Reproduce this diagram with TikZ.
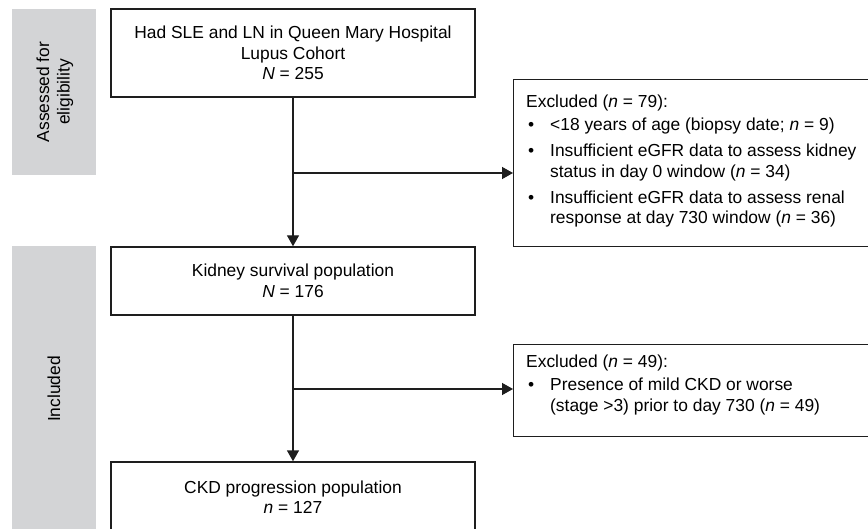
\documentclass[tikz,border=0pt]{standalone}
\usepackage{fontspec}
\setmainfont{Liberation Sans}
\usetikzlibrary{arrows.meta}
\definecolor{bandgray}{RGB}{211,212,214}
\definecolor{ln}{RGB}{30,30,30}
\newcommand{\bul}{\makebox[24pt][l]{\hspace{2pt}•}}
\newcommand{\ind}{\hspace*{24pt}}
\begin{document}
\begin{tikzpicture}[x=1pt,y=-1pt,
  every node/.style={font=\fontsize{17.4}{20.5}\selectfont, text=black},
  box/.style={draw=ln, line width=1.4pt, minimum width=364pt, align=center, inner sep=0pt},
  exbox/.style={draw=ln, line width=1.4pt, inner sep=0pt, anchor=north west, minimum width=372pt},
  bandbox/.style={fill=bandgray, draw=none, inner sep=0pt, anchor=north west, minimum width=84pt},
  txt/.style={anchor=base west, inner sep=0pt},
  conn/.style={draw=ln, line width=1.4pt},
  arr/.style={conn, -{Triangle[length=11pt,width=12pt]}},
]
\clip (0,0) rectangle (868,529);
\node[bandbox, minimum height=166pt] (b1) at (12,9) {};
\node[bandbox, minimum height=290pt] (b2) at (12,246) {};
\node[rotate=90, align=center, inner sep=0pt] (l1) at (55,92) {Assessed for\\eligibility};
\node[rotate=90, inner sep=0pt] (l2) at (54,389) {Included};

\node[box, minimum height=88pt] (s1) at (293,53) {Had SLE and LN in Queen Mary Hospital\\Lupus Cohort\\\textit{N} = 255};
\node[box, minimum height=68pt] (s2) at (293,281) {Kidney survival population\\\textit{N} = 176};
\node[box, minimum height=70pt] (s3) at (293,497) {CKD progression population\\\textit{n} = 127};

\node[exbox, minimum height=167pt] (e1) at (513,79) {};
\node[exbox, minimum height=92pt] (e2) at (513,344) {};

\node[txt] (t1) at (526,107.5) {\begin{tabular}[t]{@{}l@{}}
Excluded (\textit{n} = 79):\\[3pt]
\bul<18 years of age (biopsy date; \textit{n} = 9)\\[5.5pt]
\bul Insufficient eGFR data to assess kidney\\
\ind status in day 0 window (\textit{n} = 34)\\[5.5pt]
\bul Insufficient eGFR data to assess renal\\
\ind response at day 730 window (\textit{n} = 36)
\end{tabular}};
\node[txt] (t2) at (526,367.5) {\begin{tabular}[t]{@{}l@{}}
Excluded (\textit{n} = 49):\\[3pt]
\bul Presence of mild CKD or worse\\
\ind (stage >3) prior to day 730 (\textit{n} = 49)
\end{tabular}};

\coordinate (j1) at (293,173);
\coordinate (j2) at (293,389);
\draw[arr] (s1.south) -- (s2.north);
\draw[arr] (j1) -- (j1 -| e1.west);
\draw[arr] (s2.south) -- (s3.north);
\draw[arr] (j2) -- (j2 -| e2.west);
\end{tikzpicture}
\end{document}
